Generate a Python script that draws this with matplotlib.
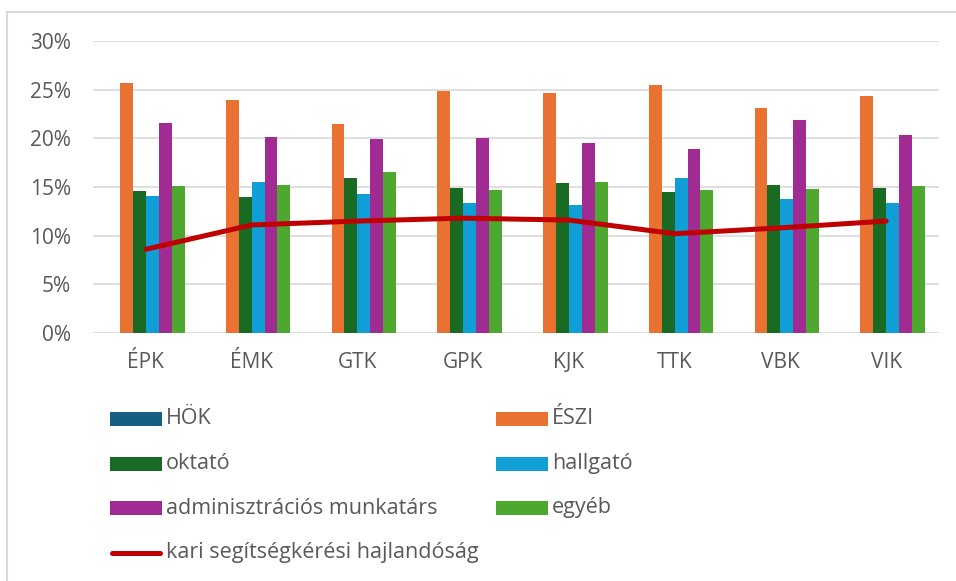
import numpy as np
import matplotlib
matplotlib.use("Agg")
import matplotlib.pyplot as plt
from matplotlib.patches import Rectangle
from matplotlib.lines import Line2D
from matplotlib.ticker import FuncFormatter

plt.rcParams["font.family"] = ["Open Sans", "DejaVu Sans"]

# --- data (shares, %) ---
faculties = ["ÉPK", "ÉMK", "GTK", "GPK", "KJK", "TTK", "VBK", "VIK"]
hok = [0, 0, 0, 0, 0, 0, 0, 0]
eszi = [25.7, 23.9, 21.5, 24.9, 24.7, 25.5, 23.1, 24.4]
oktato = [14.6, 14.0, 15.9, 14.9, 15.4, 14.5, 15.2, 14.9]
hallgato = [14.1, 15.5, 14.3, 13.4, 13.1, 15.9, 13.8, 13.4]
admin = [21.6, 20.1, 19.9, 20.0, 19.5, 18.9, 21.9, 20.3]
egyeb = [15.1, 15.2, 16.5, 14.7, 15.5, 14.7, 14.8, 15.1]
hajlandosag = [8.6, 11.1, 11.5, 11.8, 11.6, 10.2, 10.8, 11.5]

bar_names = ["HÖK", "ÉSZI", "oktató", "hallgató", "adminisztrációs munkatárs", "egyéb"]
bar_series = [hok, eszi, oktato, hallgato, admin, egyeb]
bar_colors = ["#156082", "#E97132", "#196B24", "#0F9ED5", "#A02B93", "#4EA72E"]
line_name = "kari segítségkérési hajlandóság"
line_color = "#C00000"
TXT = "#595959"
GRID = "#D9D9D9"

W, H = 956, 581
fig = plt.figure(figsize=(W / 100, H / 100), dpi=100)
ax = fig.add_axes([93 / W, 1 - 333 / H, 846 / W, 292 / H])

x = np.arange(len(faculties))
bw = 0.122
for i, (vals, col) in enumerate(zip(bar_series, bar_colors)):
    ax.bar(x + (i - 2.5) * bw, np.array(vals) / 100, width=bw, color=col,
           linewidth=0, zorder=2)
ax.plot(x, np.array(hajlandosag) / 100, color=line_color, lw=3.6,
        solid_capstyle="round", solid_joinstyle="round", zorder=3)

ax.set_xlim(-0.5, len(faculties) - 0.5)
ax.set_ylim(0, 0.30)
ax.set_yticks(np.arange(0, 0.301, 0.05))
ax.yaxis.set_major_formatter(FuncFormatter(lambda v, p: f"{v * 100:.0f}%"))
ax.set_xticks(x)
ax.set_xticklabels(faculties)
ax.tick_params(axis="y", length=0, pad=16, labelsize=15, labelcolor=TXT)
ax.tick_params(axis="x", length=0, pad=14, labelsize=15, labelcolor=TXT)
ax.grid(axis="y", color=GRID, lw=1.2, zorder=0)
ax.set_axisbelow(True)
for s in ax.spines.values():
    s.set_visible(False)

# chart frame (cut off at right and bottom)
fig.add_artist(Rectangle((7 / W, -0.1), 1.1, 1 - 12 / H + 0.1,
                         transform=fig.transFigure, fill=False,
                         edgecolor=GRID, lw=1.5))

# --- legend, laid out like the spreadsheet one ---
rows = [419, 463.5, 508, 552.5]
cols = [110, 496]
leg_fs = 15.5
entries = list(zip(bar_names, bar_colors))
for k, (name, col) in enumerate(entries):
    cx = cols[k % 2]
    cy = rows[k // 2]
    fig.add_artist(Rectangle((cx / W, 1 - (cy + 7) / H), 52 / W, 14 / H,
                             transform=fig.transFigure, facecolor=col,
                             edgecolor="none"))
    fig.text((cx + 56) / W, 1 - cy / H, name, fontsize=leg_fs, color=TXT,
             va="center", ha="left")
cy = rows[3]
fig.add_artist(Line2D([112 / W, 160 / W], [1 - cy / H, 1 - cy / H],
                      transform=fig.transFigure, color=line_color, lw=3.6,
                      solid_capstyle="round"))
fig.text(166 / W, 1 - cy / H, line_name, fontsize=leg_fs, color=TXT,
         va="center", ha="left")

fig.savefig("out.png", dpi=100, facecolor="white")
